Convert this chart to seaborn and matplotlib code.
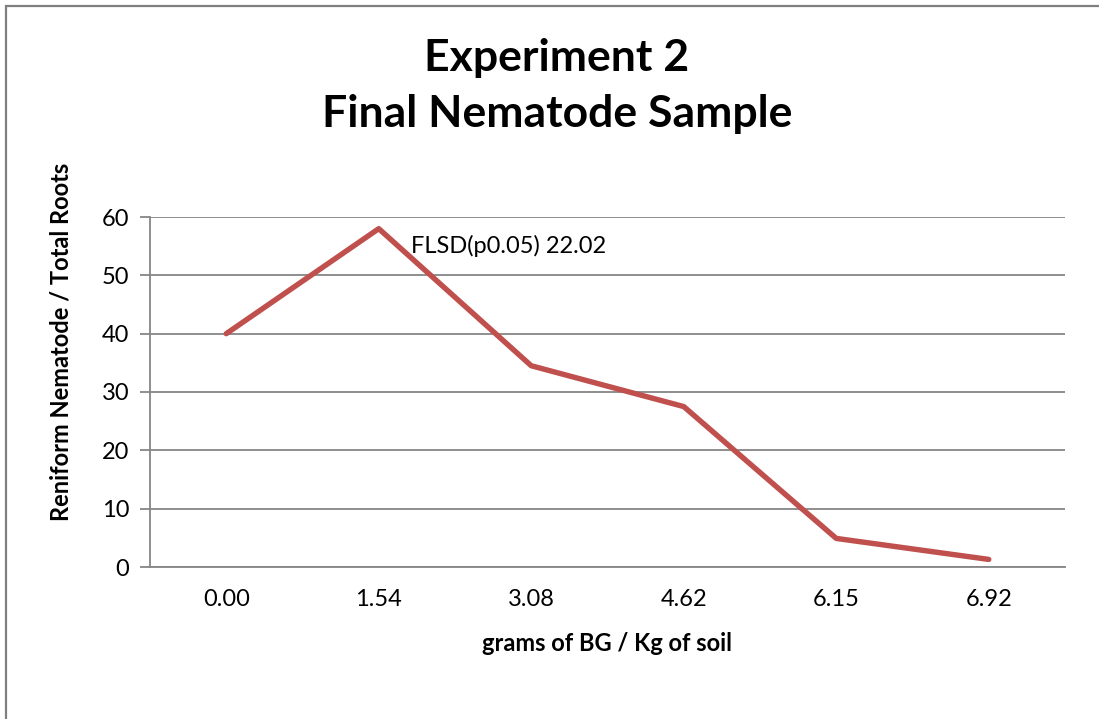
import matplotlib as mpl
mpl.use('Agg')

import seaborn as sns
import pandas as pd
import matplotlib.pyplot as plt
from matplotlib.patches import Rectangle

# dose of BG (category labels) and nematode counts
doses = ['0.00', '1.54', '3.08', '4.62', '6.15', '6.92']
nematodes = [40.0, 58.0, 34.5, 27.5, 4.9, 1.3]

title = "Experiment 2\nFinal Nematode Sample"
xlabel = "grams of BG / Kg of soil"
ylabel = "Reniform Nematode / Total Roots"
note = "FLSD(p0.05) 22.02"

sns.set_style("white")
plt.rcParams['font.family'] = ['Lato', 'DejaVu Sans']
plt.rcParams['text.color'] = 'black'
plt.rcParams['axes.labelcolor'] = 'black'
plt.rcParams['xtick.color'] = 'black'
plt.rcParams['ytick.color'] = 'black'

df = pd.DataFrame({'dose': doses, 'n': nematodes})

fig = plt.figure(figsize=(10.99, 7.19), dpi=100)
ax = fig.add_axes([150/1099, 1 - 567/719, (1065 - 150)/1099, (567 - 217)/719])

grid_col = '#868686'
sns.lineplot(data=df, x='dose', y='n', sort=False, color='#C0504D', lw=3.9, ax=ax, zorder=3)

ax.set_xlim(-0.5, 5.5)
ax.set_ylim(0, 60)
ax.set_yticks(range(0, 61, 10))
ax.yaxis.grid(True, color=grid_col, lw=1.3)
ax.xaxis.grid(False)
for s in ['top', 'right']:
    ax.spines[s].set_visible(False)
for s in ['left', 'bottom']:
    ax.spines[s].set_color(grid_col)
    ax.spines[s].set_linewidth(1.3)
ax.tick_params(axis='y', left=True, length=7, width=1.3, color=grid_col, labelsize=17, pad=8)
ax.tick_params(axis='x', bottom=False, labelsize=17, pad=12)

ax.set_xlabel(xlabel, fontsize=17, fontweight='bold', labelpad=16)
ax.set_ylabel(ylabel, fontsize=17, fontweight='bold')
# the y title sits a bit above the middle of the axis, as in the reference
ax.yaxis.set_label_coords(-0.085, 0.643)
ax.text(1.21, 55.1, note, fontsize=17, va='center', ha='left')

fig.suptitle(title, x=557/1099, y=1 - 86/719, fontsize=32, fontweight='bold', va='center', linespacing=1.5)

# outer chart border (only top and left are visible in the reference)
fig.patches.append(Rectangle((6/1099, -0.1), 1.2, 1 - 6/719 + 0.1, transform=fig.transFigure,
                             fill=False, edgecolor='#7f7f7f', lw=1.6))

fig.savefig("out.png", dpi=100)
